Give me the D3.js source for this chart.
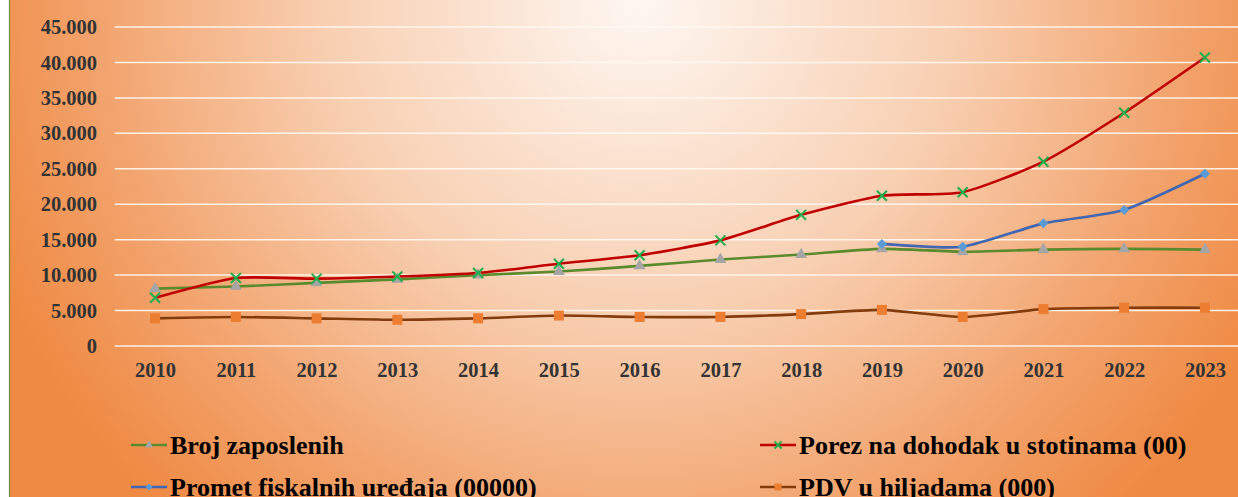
<!DOCTYPE html>
<html>
<head>
<meta charset="utf-8">
<script src="https://cdn.jsdelivr.net/npm/d3@7"></script>
<style>
  html, body { margin: 0; padding: 0; background: #fff; }
  svg { display: block; }
</style>
</head>
<body>
<svg id="chart" width="1238" height="497"></svg>
<script>
const years = ["2010", "2011", "2012", "2013", "2014", "2015", "2016", "2017", "2018", "2019", "2020", "2021", "2022", "2023"];
const brojZaposlenih = [8100, 8400, 8900, 9400, 10000, 10500, 11300, 12200, 12900, 13700, 13300, 13600, 13700, 13600];
const porezNaDohodak = [6800, 9600, 9500, 9800, 10300, 11600, 12800, 14900, 18500, 21200, 21700, 26000, 32900, 40700];
const prometFiskalnih = [null, null, null, null, null, null, null, null, null, 14400, 14000, 17300, 19200, 24300];
const pdvHiljade = [3900, 4100, 3900, 3700, 3900, 4300, 4100, 4100, 4500, 5100, 4100, 5200, 5400, 5400];
const yTicks = [0, 5000, 10000, 15000, 20000, 25000, 30000, 35000, 40000, 45000];

const series = [
    { name: "Broj zaposlenih", values: brojZaposlenih, line: "#5b8a2d", marker: "triangle", fill: "#a5a5a5" },
    { name: "Promet fiskalnih uređaja (00000)", values: prometFiskalnih, line: "#4266b0", marker: "diamond", fill: "#5b9bd5" },
    { name: "Porez na dohodak u stotinama (00)", values: porezNaDohodak, line: "#c00000", marker: "x", fill: "#1fae4c" },
    { name: "PDV u hiljadama (000)", values: pdvHiljade, line: "#843c0c", marker: "square", fill: "#ed7d31" },
];

const width = 1238, height = 497;
const margens = { left: 114.7, right: -7.3, top: 27, bottom: 151 };
const fontFamily = "'Liberation Serif', serif";

const svg = d3.select("#chart");

// background
const defs = svg.append("defs");
const grad = defs.append("radialGradient")
    .attr("id", "bg")
    .attr("gradientUnits", "userSpaceOnUse")
    .attr("cx", 640).attr("cy", 0).attr("r", 700);
grad.append("stop").attr("offset", "0").attr("stop-color", "#fef7f2");
grad.append("stop").attr("offset", "0.45").attr("stop-color", "#f8cfb1");
grad.append("stop").attr("offset", "0.8").attr("stop-color", "#f2a068");
grad.append("stop").attr("offset", "1").attr("stop-color", "#ef8a43");

svg.append("rect").attr("width", width).attr("height", height).attr("fill", "#fff");
svg.append("rect").attr("x", 10).attr("width", width - 10).attr("height", height).attr("fill", "url(#bg)");
svg.append("line").attr("x1", 9.5).attr("x2", 9.5).attr("y1", 0).attr("y2", height)
    .attr("stroke", "#6f8a3a").attr("stroke-width", 1.2);

const mapX = d3.scalePoint()
    .domain(years)
    .range([margens.left, width - margens.right])
    .padding(0.5);

const mapY = d3.scaleLinear()
    .domain([0, 45000])
    .range([height - margens.bottom, margens.top]);

const fmt = d3.formatLocale({ decimal: ",", thousands: ".", grouping: [3], currency: ["", ""] }).format(",d");

// gridlines
svg.append("g")
    .selectAll("line")
    .data(yTicks)
    .enter()
    .append("line")
    .attr("x1", margens.left)
    .attr("x2", width)
    .attr("y1", (d) => mapY(d))
    .attr("y2", (d) => mapY(d))
    .attr("stroke", "#fffaf4")
    .attr("stroke-opacity", 0.9)
    .attr("stroke-width", 1.5);

// y axis
const yAxis = d3.axisLeft(mapY).tickValues(yTicks).tickFormat(fmt).tickSize(0).tickPadding(0);
const gy = svg.append("g")
    .attr("transform", `translate(97, 0)`)
    .call(yAxis);
gy.select(".domain").remove();
gy.selectAll("text")
    .attr("fill", "#333")
    .style("font-family", fontFamily)
    .style("font-size", "20.5px")
    .style("font-weight", "bold");

// x axis
const xAxis = d3.axisBottom(mapX).tickSize(0).tickPadding(0);
const gx = svg.append("g")
    .attr("transform", `translate(0, ${height - margens.bottom})`)
    .call(xAxis);
gx.select(".domain").remove();
gx.selectAll("text")
    .attr("y", 0)
    .attr("dy", 31)
    .attr("fill", "#333")
    .style("font-family", fontFamily)
    .style("font-size", "20.5px")
    .style("font-weight", "bold");

// lines
const line = d3.line()
    .defined((d) => d != null)
    .x((d, i) => mapX(years[i]))
    .y((d) => mapY(d))
    .curve(d3.curveCardinal.tension(0.4));

function drawMarker(g, type, fill, size) {
    if (type === "triangle") {
        g.append("path").attr("d", d3.symbol(d3.symbolTriangle, size * size * 0.6)()).attr("fill", fill);
    } else if (type === "diamond") {
        g.append("path").attr("d", `M0,${-size / 2}L${size / 2},0L0,${size / 2}L${-size / 2},0Z`).attr("fill", fill);
    } else if (type === "square") {
        g.append("rect").attr("x", -size / 2).attr("y", -size / 2).attr("width", size).attr("height", size).attr("fill", fill);
    } else if (type === "x") {
        const s = size / 2;
        g.append("path").attr("d", `M${-s},${-s}L${s},${s}M${-s},${s}L${s},${-s}`)
            .attr("stroke", fill).attr("stroke-width", 2).attr("fill", "none");
    }
}

series.forEach((s) => {
    svg.append("path")
        .datum(s.values)
        .attr("fill", "none")
        .attr("stroke", s.line)
        .attr("stroke-width", 2.6)
        .attr("d", line);
});

series.forEach((s) => {
    const pts = s.values.map((v, i) => ({ v, year: years[i] })).filter((d) => d.v != null);
    svg.append("g")
        .selectAll("g")
        .data(pts)
        .enter()
        .append("g")
        .attr("transform", (d) => `translate(${mapX(d.year)}, ${mapY(d.v)})`)
        .each(function () {
            drawMarker(d3.select(this), s.marker, s.fill, 10);
        });
});

// legend
const legendPos = [
    { k: 0, x: 131, y: 445 },
    { k: 2, x: 760, y: 445 },
    { k: 1, x: 131, y: 487 },
    { k: 3, x: 760, y: 487 },
];
legendPos.forEach((p) => {
    const s = series[p.k];
    const g = svg.append("g").attr("transform", `translate(${p.x}, ${p.y})`);
    g.append("line").attr("x1", 0).attr("x2", 36).attr("y1", 0).attr("y2", 0)
        .attr("stroke", s.line).attr("stroke-width", 2.6);
    const m = g.append("g").attr("transform", "translate(18, 0)");
    drawMarker(m, s.marker, s.fill, 7);
    g.append("text")
        .attr("x", 39)
        .attr("y", 9)
        .attr("fill", "#000")
        .style("font-family", fontFamily)
        .style("font-size", "26px")
        .style("font-weight", "bold")
        .text(s.name);
});
</script>
</body>
</html>
